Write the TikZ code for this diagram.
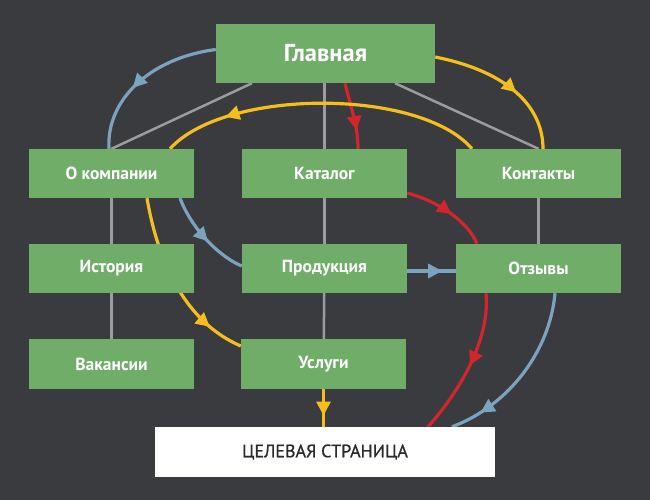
\documentclass[tikz,border=0pt]{standalone}
\usepackage{fontspec}
\setmainfont{PT Sans}
\newfontfamily\tgtfont{PT Sans}[FakeBold=0.7]
\usetikzlibrary{arrows.meta,decorations.markings}
\definecolor{bgc}{HTML}{3A3B3F}
\definecolor{boxg}{HTML}{6FAD68}
\definecolor{cyel}{HTML}{F5BE1E}
\definecolor{cred}{HTML}{D0262C}
\definecolor{cblue}{HTML}{7BA3BD}
\definecolor{cgray}{HTML}{9C9C9E}
\definecolor{ctxt}{HTML}{2A2A2C}
\pgfdeclarelayer{bglayer}
\pgfdeclarelayer{treelayer}
\pgfdeclarelayer{linklayer}
\pgfsetlayers{bglayer,treelayer,linklayer,main}
\tikzset{
  pbox/.style={fill=boxg, text=white, font=\bfseries\fontsize{17.5}{20}\selectfont,
    minimum width=165pt, minimum height=49pt, inner sep=0pt},
  mainbox/.style={pbox, minimum width=219pt, minimum height=59pt, font=\bfseries\fontsize{24.5}{28}\selectfont},
  tbox/.style={fill=white, text=ctxt, font=\tgtfont\fontsize{18}{21}\selectfont, minimum width=340pt, minimum height=50pt, inner sep=0pt},
  tree/.style={draw=cgray, line width=2.5pt},
  link/.style={line width=3.2pt},
  midarrow/.style={decoration={markings, mark=at position #1 with {\arrow{Triangle[length=14pt,width=14pt]}}}, postaction=decorate},
}
\begin{document}
\begin{tikzpicture}[x=1pt,y=-1pt]
\begin{pgfonlayer}{bglayer}
\fill[bgc] (0,0) rectangle (650,500);
\end{pgfonlayer}
\useasboundingbox (0,0) rectangle (650,500);
\node[mainbox] (glav) at (325.5,53.5) {Главная};
\node[pbox] (okomp) at (111.5,173.5) {О компании};
\node[pbox] (katal) at (324.5,173.5) {Каталог};
\node[pbox] (kont) at (538.5,173.5) {Контакты};
\node[pbox] (ist) at (111.5,268.5) {История};
\node[pbox] (prod) at (324.5,268.5) {Продукция};
\node[pbox] (otz) at (538.5,268.5) {Отзывы};
\node[pbox, minimum height=50pt] (vak) at (111.5,364) {Вакансии};
\node[pbox, minimum height=50pt] (usl) at (323.5,364) {Услуги};
\node[tbox] (target) at (325,452) {ЦЕЛЕВАЯ СТРАНИЦА};
\begin{pgfonlayer}{treelayer}
\draw[tree] ([xshift=-73.5pt]glav.south) -- (okomp.north);
\draw[tree] ([xshift=-1pt]glav.south) -- (katal.north);
\draw[tree] ([xshift=69.5pt]glav.south) -- (kont.north);
\draw[tree] (okomp) -- (ist);
\draw[tree] (ist) -- (vak);
\draw[tree] (katal) -- (prod);
\draw[tree] (prod) -- (usl);
\draw[tree] (kont) -- (otz);
\end{pgfonlayer}
\begin{pgfonlayer}{linklayer}
\draw[link, cblue, midarrow=0.58] ([yshift=4pt]glav.west) .. controls (150,58) and (106,100) .. ([xshift=-2.5pt]okomp.north);
\draw[link, cyel, midarrow=0.58] ([yshift=-3.5pt]glav.east) .. controls (510,72) and (543,108) .. ([xshift=4.5pt]kont.north);
\draw[link, cred, midarrow=0.72] ([xshift=19.5pt]glav.south) .. controls (350,105) and (358,125) .. ([xshift=33.5pt]katal.north);
\draw[link, cyel, midarrow=0.8] ([xshift=-66.5pt]kont.north) .. controls (420,88) and (225,88) .. ([xshift=58.5pt]okomp.north);
\draw[link, cred, midarrow=0.55] ([yshift=-19.5pt]katal.east) .. controls (440,202) and (468,222) .. ([xshift=-61.5pt]otz.north);
\draw[link, cred, midarrow=0.5] ([xshift=-52.5pt]otz.south) .. controls (490,335) and (465,385) .. ([xshift=103pt]target.north);
\draw[link, cblue, midarrow=0.82] ([xshift=16.5pt]otz.south) .. controls (550,350) and (510,405) .. ([xshift=127pt]target.north);
\draw[link, cblue, midarrow=0.55] ([xshift=68.5pt]okomp.south) .. controls (193,232) and (222,258) .. ([yshift=2.5pt]prod.west);
\draw[link, cyel, midarrow=0.8] ([xshift=35.5pt]okomp.south) .. controls (158,262) and (185,322) .. ([yshift=18pt]usl.west);
\draw[link, cblue, midarrow=0.72] ([yshift=-2.5pt]prod.east) -- ([yshift=-2.5pt]otz.west);
\draw[link, cyel, midarrow=0.7] (usl.south) -- (usl.south |- target.north);
\end{pgfonlayer}
\end{tikzpicture}
\end{document}
